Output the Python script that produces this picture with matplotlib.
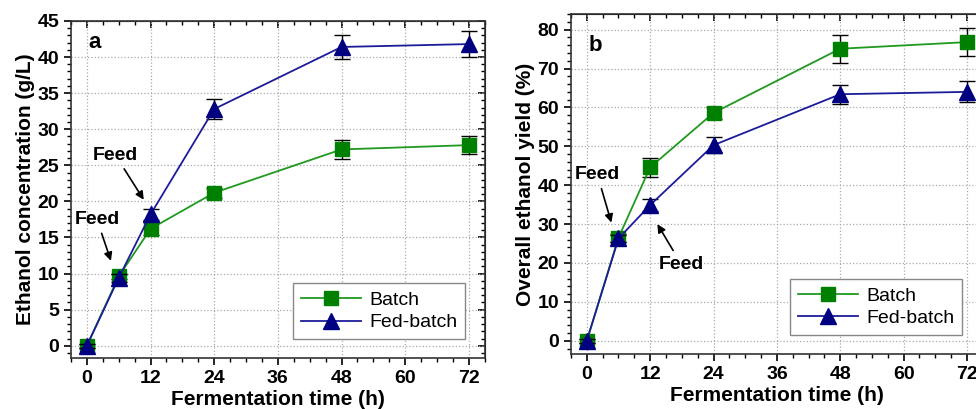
import matplotlib.pyplot as plt
from matplotlib.ticker import MultipleLocator

# Datos
tiempo = [0, 6, 12, 24, 48, 72]

etanol_batch = [0, 9.6, 16.2, 21.2, 27.2, 27.8]
etanol_batch_err = [0.3, 0.4, 0.9, 0.7, 1.3, 1.3]
etanol_fed = [0, 9.4, 18.2, 32.8, 41.4, 41.8]
etanol_fed_err = [0.3, 0.5, 0.8, 1.35, 1.6, 1.8]

rend_batch = [0, 26.5, 44.6, 58.6, 75.1, 76.8]
rend_batch_err = [0.5, 1.0, 2.5, 1.5, 3.6, 3.6]
rend_fed = [0, 26.3, 34.9, 50.3, 63.4, 64.0]
rend_fed_err = [0.5, 1.0, 1.5, 2.0, 2.4, 2.7]

x_ticks = [0, 12, 24, 36, 48, 60, 72]

plt.rcParams['font.family'] = 'Liberation Sans'

VERDE = '#008000'
LINEA_VERDE = '#1f9a1f'
AZUL = '#000080'
LINEA_AZUL = '#1c1c9a'

fig = plt.figure(figsize=(9.76, 4.09), dpi=100)
ax_a = fig.add_axes([0.0727, 0.1247, 0.424, 0.824])
ax_b = fig.add_axes([0.585, 0.1345, 0.422, 0.831])


def dibujar(ax, y_b, e_b, y_f, e_f, ylim, y_major, y_minor, ylabel):
    ax.errorbar(tiempo, y_b, yerr=e_b, color=LINEA_VERDE, lw=1.3,
                marker='s', markersize=10, markerfacecolor=VERDE,
                markeredgecolor=VERDE, ecolor='black', elinewidth=1,
                capsize=6, capthick=1, label='Batch', zorder=3)
    ax.errorbar(tiempo, y_f, yerr=e_f, color=LINEA_AZUL, lw=1.3,
                marker='^', markersize=11, markerfacecolor=AZUL,
                markeredgecolor=AZUL, ecolor='black', elinewidth=1,
                capsize=6, capthick=1, label='Fed-batch', zorder=4)
    ax.set_xlim(-3, 75)
    ax.set_ylim(*ylim)
    ax.set_xticks(x_ticks)
    ax.xaxis.set_minor_locator(MultipleLocator(3))
    ax.yaxis.set_major_locator(MultipleLocator(y_major))
    ax.yaxis.set_minor_locator(MultipleLocator(y_minor))
    ax.grid(True, which='major', linestyle=':', color='#aaaaaa', lw=0.9)
    ax.tick_params(axis='both', which='major', direction='out', length=5,
                   width=1.2, labelsize=14, top=False, right=False)
    ax.tick_params(axis='both', which='minor', direction='out', length=3,
                   width=1, top=False, right=False)
    for lab in ax.get_xticklabels() + ax.get_yticklabels():
        lab.set_fontweight('bold')
    for s in ax.spines.values():
        s.set_linewidth(1.2)
        s.set_color('#333333')
    # ticks hacia dentro arriba y a la derecha
    top = ax.secondary_xaxis('top')
    top.set_xticks(x_ticks)
    top.xaxis.set_minor_locator(MultipleLocator(3))
    top.tick_params(which='major', direction='in', length=5, width=1.2, labeltop=False)
    top.tick_params(which='minor', direction='in', length=3, width=1)
    right = ax.secondary_yaxis('right')
    right.yaxis.set_major_locator(MultipleLocator(y_major))
    right.yaxis.set_minor_locator(MultipleLocator(y_minor))
    right.tick_params(which='major', direction='in', length=5, width=1.2, labelright=False)
    right.tick_params(which='minor', direction='in', length=3, width=1)
    ax.set_xlabel('Fermentation time (h)', fontsize=15, fontweight='bold', labelpad=2)
    ax.set_ylabel(ylabel, fontsize=15, fontweight='bold', labelpad=2)


dibujar(ax_a, etanol_batch, etanol_batch_err, etanol_fed, etanol_fed_err,
        (-1.7, 45), 5, 1, 'Ethanol concentration (g/L)')
dibujar(ax_b, rend_batch, rend_batch_err, rend_fed, rend_fed_err,
        (-3.4, 84), 10, 2, 'Overall ethanol yield (%)')

ax_a.text(0.058, 0.935, 'a', transform=ax_a.transAxes, fontsize=16,
          fontweight='bold', ha='center', va='center')
ax_b.text(0.06, 0.907, 'b', transform=ax_b.transAxes, fontsize=16,
          fontweight='bold', ha='center', va='center')

flecha = dict(arrowstyle='-|>', color='black', lw=1.2, mutation_scale=12)
ax_a.annotate('Feed', xy=(11.0, 19.9), xytext=(5.4, 26.4), fontsize=14,
              fontweight='bold', ha='center', va='center', arrowprops=flecha)
ax_a.annotate('Feed', xy=(4.7, 11.4), xytext=(1.9, 17.5), fontsize=14,
              fontweight='bold', ha='center', va='center', arrowprops=flecha)
ax_b.annotate('Feed', xy=(4.8, 29.7), xytext=(2.0, 42.7), fontsize=14,
              fontweight='bold', ha='center', va='center', arrowprops=flecha)
ax_b.annotate('Feed', xy=(13.1, 30.6), xytext=(17.9, 19.7), fontsize=14,
              fontweight='bold', ha='center', va='center', arrowprops=flecha)

for ax, xr in ((ax_a, 0.952), (ax_b, 0.949)):
    handles, labels = ax.get_legend_handles_labels()
    handles = [h[0] for h in handles]
    leg = ax.legend(handles, labels, loc='lower right', bbox_to_anchor=(xr, 0.056),
                    fontsize=14, fancybox=False, framealpha=1, edgecolor='#888888',
                    handlelength=3.1, borderpad=0.4, labelspacing=0.25,
                    handletextpad=0.4, borderaxespad=0)
    leg.get_frame().set_linewidth(1)

fig.savefig('out.png', dpi=100)
